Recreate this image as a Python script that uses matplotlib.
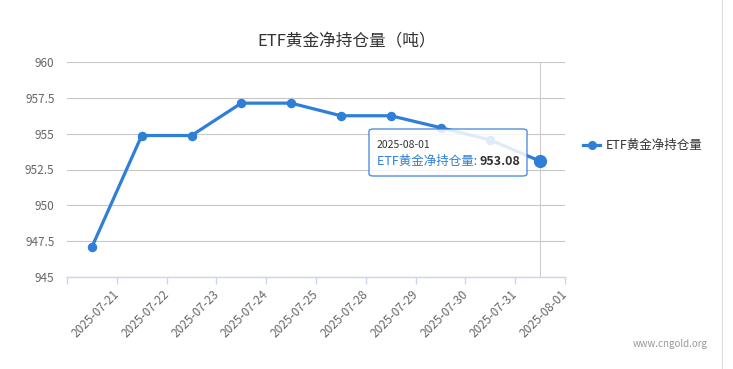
import matplotlib
matplotlib.use("Agg")
import matplotlib.pyplot as plt
from matplotlib.patches import FancyBboxPatch
from matplotlib.lines import Line2D

plt.rcParams['font.family'] = ['Noto Sans CJK SC', 'DejaVu Sans']

dates = ['2025-07-21', '2025-07-22', '2025-07-23', '2025-07-24', '2025-07-25',
         '2025-07-28', '2025-07-29', '2025-07-30', '2025-07-31', '2025-08-01']
holdings = [947.09, 954.87, 954.87, 957.13, 957.13, 956.25, 956.25, 955.42, 954.56, 953.08]
y_ticks = [945, 947.5, 950, 952.5, 955, 957.5, 960]
y_labels = ['945', '947.5', '950', '952.5', '955', '957.5', '960']
series_name = 'ETF黄金净持仓量'

W, H = 733, 369
blue = '#2f7ed8'

fig = plt.figure(figsize=(W / 100, H / 100), dpi=100)
ax = fig.add_axes([67 / W, 1 - 277 / H, 498 / W, 215 / H])

n = len(dates)
xs = [i + 0.5 for i in range(n)]

# crosshair on the hovered point
ax.axvline(xs[-1], color='#cccccc', lw=0.8, zorder=1)

ax.plot(xs, holdings, color=blue, lw=2.3, marker='o', ms=5.8, zorder=3, clip_on=False)
ax.plot(xs[-1], holdings[-1], 'o', color=blue, ms=8.5, zorder=6, clip_on=False)

ax.set_xlim(0, n)
ax.set_ylim(945, 960)
ax.set_yticks(y_ticks)
ax.set_yticklabels(y_labels)
ax.grid(axis='y', color='#c8c8c8', lw=0.8)
ax.set_axisbelow(True)

for s in ['top', 'right', 'left']:
    ax.spines[s].set_visible(False)
ax.spines['bottom'].set_color('#ccd6eb')
ax.spines['bottom'].set_linewidth(1)

ax.set_xticks(range(n + 1))
ax.set_xticklabels([])
ax.tick_params(axis='x', length=5, color='#ccd6eb', width=1)
ax.tick_params(axis='y', length=0, labelsize=8.5, labelcolor='#666666', pad=9)

for i, d in enumerate(dates):
    ax.annotate(d, xy=(i + 1, 945), xytext=(-3, -8), textcoords='offset points',
                rotation=45, ha='right', va='top', rotation_mode='anchor',
                fontsize=8.5, color='#666666', annotation_clip=False)

fig.text(347 / W, 1 - 42 / H, 'ETF黄金净持仓量（吨）', ha='center', va='center',
         fontsize=12, color='#333333')

# legend
fig.add_artist(Line2D([583 / W, 600 / W], [1 - 145 / H, 1 - 145 / H], color=blue, lw=2.3))
fig.add_artist(Line2D([591.5 / W], [1 - 145 / H], color=blue, marker='o', ms=5.5))
fig.text(606 / W, 1 - 145 / H, series_name, ha='left', va='center', fontsize=9, color='#333333')

fig.text(708 / W, 1 - 344 / H, 'www.cngold.org', ha='right', va='center', fontsize=7, color='#999999')

# tooltip
box = FancyBboxPatch((369 / W, 1 - 176 / H), 158 / W, 47 / H,
                     boxstyle='round,pad=0,rounding_size=0.006', transform=fig.transFigure,
                     facecolor='white', edgecolor=blue, lw=1, alpha=0.85, zorder=5)
fig.add_artist(box)
fig.text(377 / W, 1 - 145 / H, dates[-1], ha='left', va='center', fontsize=7.5, color='#333333', zorder=7)
t1 = fig.text(377 / W, 1 - 161 / H, series_name + ': ', ha='left', va='center', fontsize=9,
              color=blue, zorder=7)
fig.canvas.draw()
bb = t1.get_window_extent()
fig.text(bb.x1 / W, 1 - 161 / H, '%.2f' % holdings[-1], ha='left', va='center', fontsize=9,
         fontweight='bold', color='#333333', zorder=7)

# page border on the right
fig.add_artist(Line2D([722 / W, 722 / W], [0, 1], color='#dddddd', lw=0.8))

fig.savefig('out.png', dpi=100)
